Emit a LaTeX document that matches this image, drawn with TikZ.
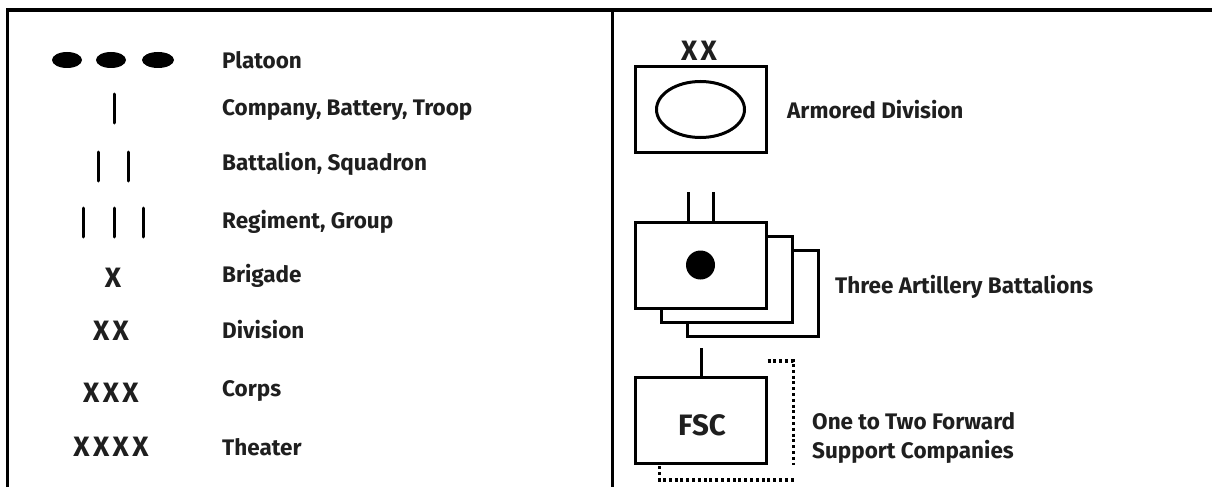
\documentclass[tikz,border=0pt]{standalone}
\usepackage{fontspec}
\setmainfont{Fira Sans}
\begin{document}
\begin{tikzpicture}[x=1pt,y=-1pt,
  frame/.style={line width=3.2pt},
  bar/.style={line width=3pt, line cap=round},
  unit/.style={draw, line width=3pt, minimum width=131pt, minimum height=86pt, inner sep=0pt, fill=white},
  lbl/.style={anchor=west, inner sep=0pt, font=\bfseries\fontsize{22.5}{26}\selectfont, text=black!88},
  ech/.style={inner sep=0pt, font=\bfseries\fontsize{28}{30}\selectfont\addfontfeature{LetterSpace=12}, text=black!88},
  dotbox/.style={line width=3.5pt, dash pattern=on 3pt off 2.8pt}]
\useasboundingbox (0,0) rectangle (1212,487);
\fill[white] (0,0) rectangle (1212,487);
% frame
\draw[frame] (7.5,487) -- (7.5,10) -- (1212,10);
\draw[frame] (612.5,10) -- (612.5,487);

% left legend
\fill (67,60) ellipse (15pt and 8pt);
\fill (111,60) ellipse (15pt and 8pt);
\fill (158,60) ellipse (16pt and 8pt);
\node[lbl] (plt) at (222,60) {Platoon};

\draw[bar] (114,94) -- (114,123);
\node[lbl] (coy) at (222,110) {Company, Battery, Troop};

\draw[bar] (98,152) -- (98,181);
\draw[bar] (128,152) -- (128,181);
\node[lbl] (bn) at (222,164) {Battalion, Squadron};

\draw[bar] (83,208) -- (83,237);
\draw[bar] (114,208) -- (114,237);
\draw[bar] (143,208) -- (143,237);
\node[lbl] (rgt) at (222,222) {Regiment, Group};

\node[ech] (bde) at (113,278) {X};
\node[lbl] (bdel) at (222,276) {Brigade};
\node[ech] (div) at (111,331) {XX};
\node[lbl] (divl) at (222,330) {Division};
\node[ech] (corps) at (111,393) {XXX};
\node[lbl] (corpsl) at (222,391) {Corps};
\node[ech] (thr) at (111,447) {XXXX};
\node[lbl] (thrl) at (222,447) {Theater};

% right: armored division
\node[unit] (ad) at (700.5,109.5) {};
\draw[line width=3pt] (ad.center) ellipse (44pt and 28pt);
\node[ech] (adx) at (699,51) {XX};
\node[lbl] (adl) at (787,110) {Armored Division};

% artillery battalions
\node[unit] (ab3) at (753,293.5) {};
\node[unit] (ab2) at (727,279) {};
\node[unit] (ab1) at (700.5,265) {};
\fill (ab1.center) circle (14.5pt);
\draw[line width=3pt] ([xshift=-12.5pt]ab1.north) -- ++(0,-29);
\draw[line width=3pt] ([xshift=12.5pt]ab1.north) -- ++(0,-29);
\node[lbl] (abl) at (835,287) {Three Artillery Battalions};

% FSC
\node[unit] (fsc) at (700.5,420.5) {};
\node[inner sep=0pt, font=\bfseries\fontsize{29.5}{32}\selectfont, text=black!88] (fsct) at (702,425) {FSC};
\coordinate (c1) at (701,348);
\draw[line width=3pt] (c1) -- (c1 |- fsc.north);
\draw[dotbox] ([yshift=15pt]fsc.north east) -| ([xshift=26pt]fsc.south east) ++(0,15) -| ([xshift=26pt,yshift=1.5pt]fsc.south west);
\node[lbl, align=left, font=\bfseries\fontsize{22.5}{29}\selectfont] (fscl) at (812,437.5) {One to Two Forward\\Support Companies};
\end{tikzpicture}
\end{document}
